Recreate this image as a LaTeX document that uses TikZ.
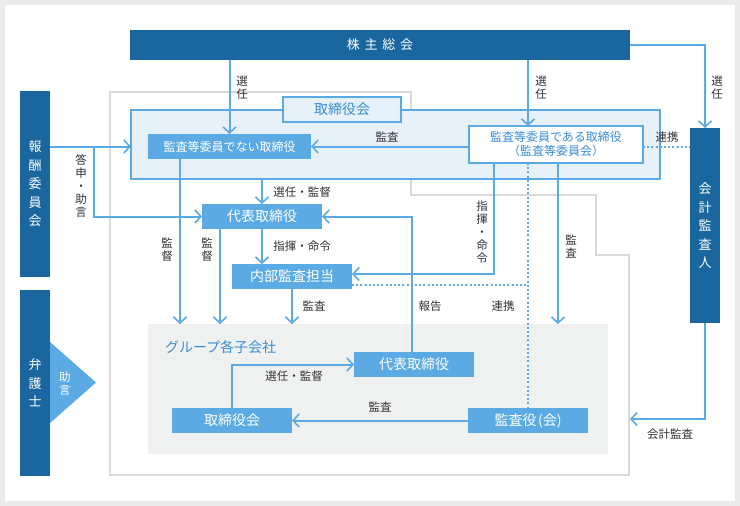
\documentclass[tikz,border=0pt]{standalone}
\usepackage{fontspec}
\newfontfamily\jp{Noto Sans CJK JP}
\usetikzlibrary{arrows.meta}
\definecolor{dblue}{HTML}{1A669F}
\definecolor{lblue}{HTML}{5BAAE3}
\definecolor{tblue}{HTML}{3A8ED3}
\definecolor{regfill}{HTML}{E7F1FA}
\definecolor{grpfill}{HTML}{EFF1F1}
\definecolor{framec}{HTML}{D9D9D9}
\definecolor{outerc}{HTML}{EBEBEB}
\definecolor{txt}{HTML}{333333}
\begin{document}
\begin{tikzpicture}[x=1pt,y=-1pt,
  every node/.style={font=\jp, inner sep=0pt, outer sep=0pt},
  darkbox/.style={fill=dblue, text=white, align=center},
  lbox/.style={fill=lblue, text=white, minimum width=120, minimum height=25, font=\jp\fontsize{14}{16}\selectfont},
  conn/.style={draw=lblue, line width=2pt},
  arr/.style={conn, -{Straight Barb[length=6pt,width=13pt,line width=1.6pt]}},
  dotl/.style={draw=lblue, line width=2pt, dash pattern=on 2pt off 2.2pt},
  lbl/.style={text=txt, font=\jp\fontsize{11.5}{13}\selectfont, align=center},
  vtxt/.style={text=white, align=center, font=\jp\fontsize{13}{18.5}\selectfont},
]
% background
\fill[outerc] (0,0) rectangle (740,506);
\fill[white] (5,5) rectangle (735,501);
% gray frame
\draw[framec, line width=2pt] (110,92) -- (411,92) -- (411,195) -- (596,195) -- (596,255) -- (629,255) -- (629,475) -- (110,475) -- cycle;

% regions
\node[draw=lblue, line width=2pt, fill=regfill, minimum width=529, minimum height=69] (region) at (395.5,144.5) {};
\node[draw=lblue, line width=2pt, fill=regfill, minimum width=118, minimum height=25, text=tblue, font=\jp\fontsize{14}{16}\selectfont] (regtitle) at (342,109.5) {取締役会};
\node[fill=grpfill, minimum width=460, minimum height=130] (group) at (378,389) {};
\node[anchor=west, text=tblue, font=\jp\fontsize{14}{16}\selectfont] (grouptitle) at (165,347) {グループ各子会社};

% dark boxes
\node[darkbox, minimum width=500, minimum height=30, font=\jp\fontsize{13}{15}\selectfont] (kabu) at (380,45) {株\hspace{4.8pt}主\hspace{4.8pt}総\hspace{4.8pt}会};
\node[darkbox, minimum width=30, minimum height=186] (hoshu) at (35,184) {};
\node[vtxt] (hoshut) at (35,184) {報\\酬\\委\\員\\会};
\node[darkbox, minimum width=30, minimum height=186] (bengo) at (35,383) {};
\node[vtxt] (bengot) at (35,383) {弁\\護\\士};
\fill[lblue] (50,342) -- (96,382.5) -- (50,423) -- cycle;
\node[text=white, align=center, font=\jp\fontsize{11.5}{13}\selectfont] (jogen) at (65,383.5) {助\\言};
\node[darkbox, minimum width=30, minimum height=195] (kaikei) at (705,225.5) {};
\node[vtxt] (kaikeit) at (705,226) {会\\計\\監\\査\\人};

% light boxes
\node[lbox, minimum width=163, font=\jp\fontsize{12}{14}\selectfont] (naibu1) at (229.5,146.5) {監査等委員でない取締役};
\node[draw=lblue, line width=2pt, fill=white, minimum width=174, minimum height=37, text=tblue, align=center, font=\jp\fontsize{12}{14}\selectfont] (kansa1) at (556,144.5) {監査等委員である取締役\\（監査等委員会）};
\node[lbox] (daihyo) at (262,216.5) {代表取締役};
\node[lbox] (naibu) at (292,276.5) {内部監査担当};
\node[lbox] (gdaihyo) at (414,364.5) {代表取締役};
\node[lbox] (gtori) at (232,420.5) {取締役会};
\node[lbox] (gkansa) at (528,420.5) {監査役\kern1.5pt(会)};

% helper coordinates
\coordinate (xA) at (528,0);
\coordinate (xB) at (94,0);
\coordinate (xC) at (180,0);
\coordinate (xD) at (220,0);
\coordinate (xE) at (494,0);
\coordinate (xG) at (558,0);
\coordinate (xI) at (412,0);
\coordinate (yF) at (0,274);
\coordinate (yH) at (0,285);
\coordinate (fr) at (630,419);

% connectors
\draw[arr] (kabu.south -| naibu1) -- (naibu1.north);
\draw[arr] (kabu.south -| xA) -- (kansa1.north -| xA);
\draw[arr] (kabu.east) -| (kaikei.north);
\draw[arr] (hoshu.east |- naibu1) -- (region.west |- naibu1);
\draw[arr] (xB |- naibu1) |- (daihyo.west);
\draw[arr] (kansa1.west |- naibu1) -- (naibu1.east);
\draw[dotl] (kansa1.east |- naibu1) -- (kaikei.west |- naibu1);
\draw[arr] (region.south -| daihyo) -- (daihyo.north);
\draw[arr] (daihyo.south) -- (daihyo.south |- naibu.north);
\draw[arr] (naibu.south) -- (naibu.south |- group.north);
\draw[arr] (naibu1.south -| xC) -- (group.north -| xC);
\draw[arr] (daihyo.south -| xD) -- (group.north -| xD);
\draw[arr] (kansa1.south -| xE) |- (naibu.east |- yF);
\draw[arr] (kansa1.south -| xG) -- (group.north -| xG);
\draw[dotl] (kansa1.south -| xA) -- (gkansa.north);
\draw[dotl] (naibu.east |- yH) -- (xA |- yH);
\draw[arr] (gdaihyo.north -| xI) |- (daihyo.east);
\draw[arr] (kaikei.south) |- (fr);
\draw[arr] (gtori.north) |- (gdaihyo.west);
\draw[arr] (gkansa.west) -- (gtori.east);

% labels
\node[lbl] (l1) at (242,87.5) {選\\任};
\node[lbl] (l2) at (541,87.5) {選\\任};
\node[lbl] (l3) at (717,87.5) {選\\任};
\node[lbl] (l4) at (81,186) {答\\申\\・\\助\\言};
\node[lbl] (l5) at (387,137) {監査};
\node[lbl] (l6) at (667,137) {連携};
\node[lbl] (l7) at (302,192) {選任・監督};
\node[lbl] (l8) at (302,246) {指揮・命令};
\node[lbl] (l9) at (167,250) {監\\督};
\node[lbl] (l10) at (207,250) {監\\督};
\node[lbl] (l11) at (482,232) {指\\揮\\・\\命\\令};
\node[lbl] (l12) at (571,247) {監\\査};
\node[lbl] (l13) at (314,306) {監査};
\node[lbl] (l14) at (430,306) {報告};
\node[lbl] (l15) at (503,306) {連携};
\node[lbl] (l17) at (294,376) {選任・監督};
\node[lbl] (l18) at (380,407) {監査};
\node[lbl] (l19) at (670,434) {会計監査};
\end{tikzpicture}
\end{document}
